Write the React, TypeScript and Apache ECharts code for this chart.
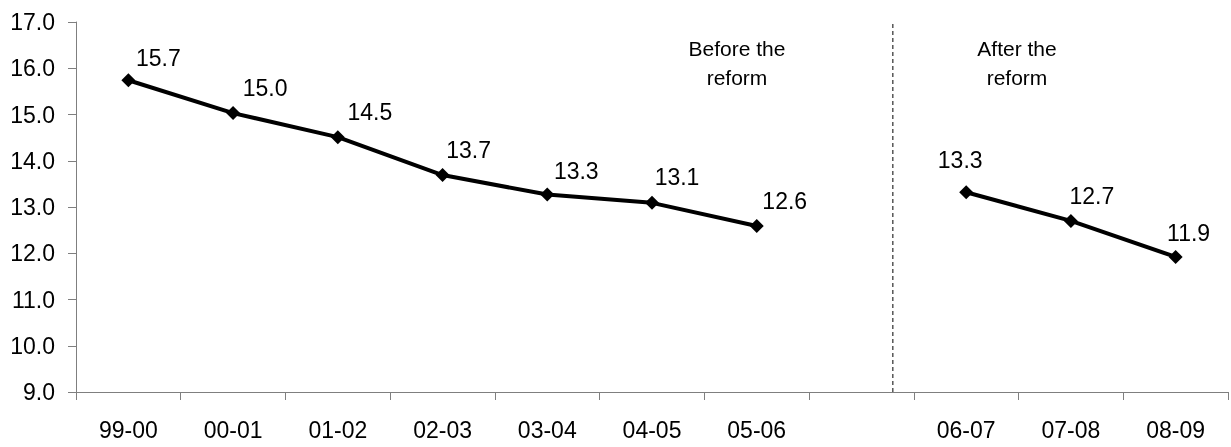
import React, { useEffect, useRef } from "react";
import * as echarts from "echarts";

const categories = ["99-00", "00-01", "01-02", "02-03", "03-04", "04-05", "05-06", "", "06-07", "07-08", "08-09"];
const values: (number | null)[] = [15.74, 15.03, 14.51, 13.69, 13.27, 13.09, 12.59, null, 13.32, 12.7, 11.92];
const yMin = 9;
const yMax = 17;
const yInterval = 1;
const reformBoundary = 7.8; // position in category units
const annotations = ["Before the\nreform", "After the\nreform"];

// styling: label offsets per point
const labelOffsets: ([number, number] | null)[] = [
  [30, -22], [32, -25], [32, -25], [26, -25], [29, -24], [25, -26], [28, -25], null, [-6, -32], [21, -25], [13, -24],
];

const FONT = "'Liberation Sans', Arial, sans-serif";
const AXIS_COLOR = "#7f7f7f";

export default function App() {
  const ref = useRef<HTMLDivElement>(null);
  useEffect(() => {
    if (!ref.current) return;
    const chart = echarts.init(ref.current, null, { renderer: "svg" });
    const data = values.map((v, i) => {
      if (v === null) return null;
      const off = labelOffsets[i] || [28, -25];
      return { value: v, label: { offset: off } };
    });
    const annStyle = {
      fontSize: 21,
      fontFamily: FONT,
      fill: "#000",
      align: "center",
      verticalAlign: "top",
      lineHeight: 29,
    };
    chart.setOption({
      animation: false,
      textStyle: { fontFamily: FONT },
      grid: { left: 76, right: 3, top: 22, bottom: 55, containLabel: false },
      xAxis: [
        {
          type: "category",
          data: categories,
          boundaryGap: true,
          axisLine: { show: true, lineStyle: { color: AXIS_COLOR, width: 1 } },
          axisTick: { show: true, length: 8, interval: 0, lineStyle: { color: AXIS_COLOR } },
          axisLabel: { interval: 0, color: "#000", fontSize: 23, fontFamily: FONT, margin: 26 },
          splitLine: { show: false },
        },
        {
          type: "value",
          min: 0,
          max: categories.length,
          show: false,
        },
      ],
      yAxis: {
        type: "value",
        min: yMin,
        max: yMax,
        interval: yInterval,
        axisLine: { show: true, lineStyle: { color: AXIS_COLOR, width: 1 } },
        axisTick: { show: true, length: 8, lineStyle: { color: AXIS_COLOR } },
        axisLabel: {
          color: "#000",
          fontSize: 23,
          fontFamily: FONT,
          margin: 21,
          formatter: (v: number) => v.toFixed(1),
        },
        splitLine: { show: false },
      },
      series: [
        {
          type: "line",
          data,
          connectNulls: false,
          symbol: "diamond",
          symbolSize: 14,
          itemStyle: { color: "#000" },
          lineStyle: { color: "#000", width: 4 },
          label: {
            show: true,
            position: "inside",
            color: "#000",
            fontSize: 23,
            fontFamily: FONT,
            formatter: (p: any) => Number(p.value).toFixed(1),
          },
        },
        {
          type: "line",
          xAxisIndex: 1,
          data: [
            [reformBoundary, yMin],
            [reformBoundary, yMax],
          ],
          symbol: "none",
          lineStyle: { color: "#000", width: 1, type: [4, 3] },
          silent: true,
        },
      ],
      graphic: [
        { type: "text", x: 737, y: 34, style: { ...annStyle, text: annotations[0] } },
        { type: "text", x: 1017, y: 34, style: { ...annStyle, text: annotations[1] } },
      ],
    });
    return () => chart.dispose();
  }, []);
  return <div ref={ref} style={{ position: "fixed", left: 0, top: 0, width: 1231, height: 447 }} />;
}
